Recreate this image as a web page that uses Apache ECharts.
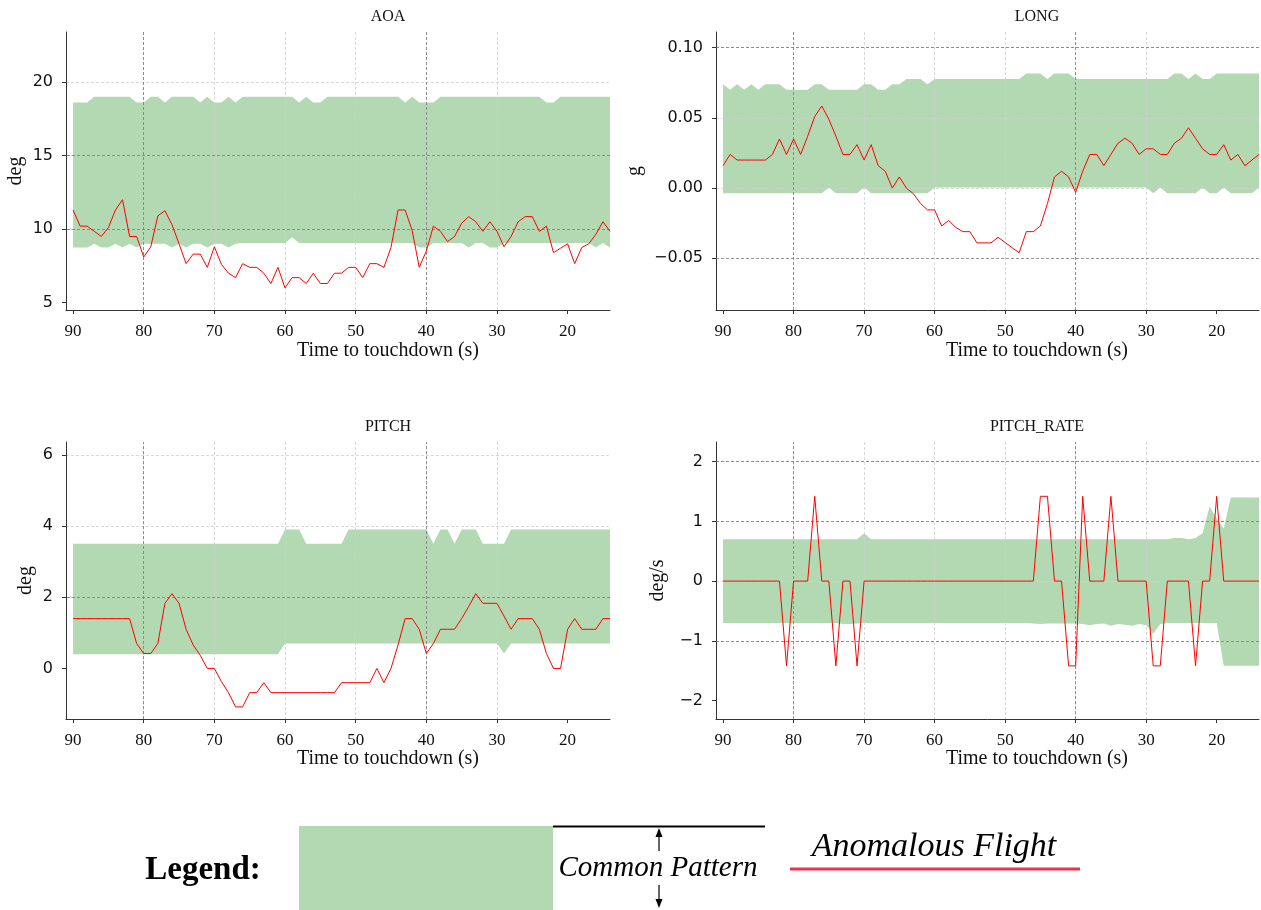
<!DOCTYPE html>
<html><head><meta charset="utf-8">
<script src="https://cdn.jsdelivr.net/npm/echarts@6/dist/echarts.min.js"></script>
<style>html,body{margin:0;padding:0;background:#fff}#c{width:1261px;height:910px}</style>
</head><body><div id="c"></div>
<script>
// ---------- data ----------
const times = [90,89,88,87,86,85,84,83,82,81,80,79,78,77,76,75,74,73,72,71,70,69,68,67,66,65,64,63,62,61,60,59,58,57,56,55,54,53,52,51,50,49,48,47,46,45,44,43,42,41,40,39,38,37,36,35,34,33,32,31,30,29,28,27,26,25,24,23,22,21,20,19,18,17,16,15,14];
const xTicks = [90,80,70,60,50,40,30,20];
const darkX = [80,40];

const aoaRed = [11.3,10.2,10.2,9.85,9.5,10.1,11.3,12.0,9.5,9.5, 8.1,8.8,10.9,11.25,10.3,9.0,7.65,8.3,8.3,7.4, 8.8,7.6,7.0,6.7,7.65,7.4,7.4,7.0,6.3,7.4, 6.0,6.7,6.7,6.3,7.0,6.3,6.3,7.0,7.0,7.4, 7.4,6.7,7.65,7.65,7.4,8.75,11.3,11.3,9.9,7.4, 8.5,10.2,9.85,9.15,9.5,10.4,10.85,10.5,9.85,10.5, 9.85,8.8,9.5,10.5,10.85,10.85,9.85,10.2,8.4,8.7, 9.0,7.65,8.75,9.0,9.65,10.5,9.85];
const aoaUpper = [18.6,18.6,18.6,19,19,19,19,19,19,18.6, 18.6,19,19,18.6,19,19,19,19,18.6,19, 18.6,18.6,19,18.6,19,19,19,19,19,19, 19,19,18.6,19,18.6,18.6,19,19,19,19, 19,19,19,19,19,19,19,18.6,19,18.6, 18.6,18.6,19,19,19,19,19,19,19,19, 19,19,19,19,19,19,19,18.6,18.6,19, 19,19,19,19,19,19,19];
const aoaLower = [8.75,8.75,8.75,9.0,8.75,8.75,9.0,8.75,9.0,8.75, 9.0,9.0,9.0,9.0,8.75,9.0,8.75,9.0,9.0,8.75, 9.0,9.0,8.75,9.0,9.05,9.05,9.05,9.05,9.05,9.05, 9.05,9.45,9.05,9.05,9.05,9.05,9.05,9.05,9.05,9.05, 9.05,9.05,9.05,9.05,9.05,9.05,9.05,9.05,9.05,8.75, 8.75,9.05,9.05,9.05,9.05,9.05,8.75,9.05,9.05,8.75, 8.75,9.05,9.05,9.05,9.05,9.05,9.05,9.05,9.05,9.05, 9.05,9.05,9.05,9.05,8.75,9.05,8.75];
const aoaYTicks = [5,10,15,20];
const aoaDarkY = [15,10];

const longRed = [0.016,0.024,0.020,0.020,0.020,0.020,0.020,0.024,0.035,0.024, 0.035,0.024,0.037,0.051,0.0585,0.049,0.037,0.024,0.024,0.031, 0.020,0.031,0.016,0.012,0.000,0.008,0.000,-0.004,-0.011,-0.0155, -0.0155,-0.027,-0.023,-0.028,-0.031,-0.031,-0.039,-0.039,-0.039,-0.035, -0.0387,-0.0425,-0.046,-0.031,-0.031,-0.027,-0.011,0.008,0.012,0.008, -0.003,0.012,0.024,0.024,0.016,0.024,0.032,0.0355,0.032,0.024, 0.028,0.028,0.024,0.024,0.032,0.0355,0.043,0.0355,0.028,0.024, 0.024,0.031,0.020,0.024,0.016,0.020,0.024];
const longUpper = [0.074,0.070,0.074,0.070,0.074,0.070,0.074,0.074,0.074,0.070, 0.070,0.070,0.070,0.074,0.074,0.070,0.070,0.070,0.070,0.070, 0.074,0.074,0.070,0.070,0.074,0.074,0.0777,0.0777,0.0777,0.074, 0.0777,0.0777,0.0777,0.0777,0.0777,0.0777,0.0777,0.0777,0.0777,0.0777, 0.0777,0.0777,0.0777,0.0817,0.0817,0.0817,0.0777,0.0817,0.0817,0.0817, 0.0777,0.0777,0.0777,0.0777,0.0777,0.0777,0.0777,0.0777,0.0777,0.0777, 0.0777,0.0777,0.0777,0.0777,0.0817,0.0817,0.0777,0.0817,0.0777,0.0777, 0.0817,0.0817,0.0817,0.0817,0.0817,0.0817,0.0817];
const longLower = [-0.0036,-0.0036,-0.0036,-0.0036,-0.0036,-0.0036,-0.0036,-0.0036,-0.0036,-0.0036, -0.0036,-0.0036,-0.0036,-0.0036,-0.0036,0.0004,-0.0036,-0.0036,-0.0036,-0.0036, 0.0004,-0.0036,-0.0036,-0.0036,-0.0036,-0.0036,-0.0036,-0.0036,-0.0036,-0.0036, 0.0004,0.0004,0.0004,0.0004,0.0004,0.0004,0.0004,0.0004,0.0004,0.0004, 0.0004,0.0004,0.0004,0.0004,0.0004,0.0004,0.0004,0.0004,0.0004,0.0004, 0.0004,0.0004,0.0004,0.0004,0.0004,0.0004,0.0004,0.0004,0.0004,0.0004, 0.0004,-0.0036,0.0004,-0.0036,-0.0036,-0.0036,-0.0036,-0.0036,0.0004,-0.0036, -0.0036,0.0004,-0.0036,-0.0036,-0.0036,-0.0036,0.0004];
const longYTicks = [-0.05,0,0.05,0.10];
const longDarkY = [0.10,-0.05];

const pitchRed = [1.4,1.4,1.4,1.4,1.4,1.4,1.4,1.4,1.4,0.70, 0.42,0.42,0.70,1.83,2.1,1.83,1.1,0.66,0.37,0.0, 0.0,-0.37,-0.68,-1.08,-1.08,-0.68,-0.68,-0.4,-0.68,-0.68, -0.68,-0.68,-0.68,-0.68,-0.68,-0.68,-0.68,-0.68,-0.4,-0.4, -0.4,-0.4,-0.4,0.0,-0.4,0.0,0.66,1.4,1.4,1.1, 0.42,0.70,1.1,1.1,1.1,1.4,1.74,2.1,1.83,1.83, 1.83,1.47,1.1,1.4,1.4,1.4,1.1,0.42,0.0,0.0, 1.1,1.4,1.1,1.1,1.1,1.4,1.4];
const pitchUpper = [3.5,3.5,3.5,3.5,3.5,3.5,3.5,3.5,3.5,3.5, 3.5,3.5,3.5,3.5,3.5,3.5,3.5,3.5,3.5,3.5, 3.5,3.5,3.5,3.5,3.5,3.5,3.5,3.5,3.5,3.5, 3.9,3.9,3.9,3.5,3.5,3.5,3.5,3.5,3.5,3.9, 3.9,3.9,3.9,3.9,3.9,3.9,3.9,3.9,3.9,3.9, 3.9,3.5,3.9,3.9,3.5,3.9,3.9,3.9,3.5,3.5, 3.5,3.5,3.9,3.9,3.9,3.9,3.9,3.9,3.9,3.9, 3.9,3.9,3.9,3.9,3.9,3.9,3.9];
const pitchLower = [0.4,0.4,0.4,0.4,0.4,0.4,0.4,0.4,0.4,0.4, 0.4,0.4,0.4,0.4,0.4,0.4,0.4,0.4,0.4,0.4, 0.4,0.4,0.4,0.4,0.4,0.4,0.4,0.4,0.4,0.4, 0.7,0.7,0.7,0.7,0.7,0.7,0.7,0.7,0.7,0.7, 0.7,0.7,0.7,0.7,0.7,0.7,0.7,0.7,0.7,0.7, 0.7,0.7,0.7,0.7,0.7,0.7,0.7,0.7,0.7,0.7, 0.7,0.42,0.7,0.7,0.7,0.7,0.7,0.7,0.7,0.7, 0.7,0.7,0.7,0.7,0.7,0.7,0.7];
const pitchYTicks = [0,2,4,6];
const pitchDarkY = [2];

const rateRed = [0,0,0,0,0,0,0,0,0,-1.42, 0,0,0,1.42,0,0,-1.42,0,0,-1.42, 0,0,0,0,0,0,0,0,0,0, 0,0,0,0,0,0,0,0,0,0, 0,0,0,0,0,1.42,1.42,0,0,-1.42, -1.42,1.42,0,0,0,1.42,0,0,0,0, 0,-1.42,-1.42,0,0,0,0,-1.42,0,0, 1.42,0,0,0,0,0,0];
const rateUpper = [0.7,0.7,0.7,0.7,0.7,0.7,0.7,0.7,0.7,0.7, 0.7,0.7,0.7,0.7,0.7,0.7,0.7,0.7,0.7,0.7, 0.8,0.7,0.7,0.7,0.7,0.7,0.7,0.7,0.7,0.7, 0.7,0.7,0.7,0.7,0.7,0.7,0.7,0.7,0.7,0.7, 0.7,0.7,0.7,0.7,0.7,0.7,0.7,0.7,0.7,0.7, 0.7,0.7,0.7,0.7,0.7,0.7,0.7,0.7,0.7,0.7, 0.7,0.7,0.7,0.7,0.72,0.72,0.7,0.72,0.8,1.25, 1.05,0.88,1.4,1.4,1.4,1.4,1.4];
const rateLower = [-0.7,-0.7,-0.7,-0.7,-0.7,-0.7,-0.7,-0.7,-0.7,-0.7, -0.7,-0.7,-0.7,-0.7,-0.7,-0.7,-0.7,-0.72,-0.72,-0.71, -0.7,-0.7,-0.7,-0.7,-0.7,-0.7,-0.7,-0.7,-0.7,-0.7, -0.7,-0.7,-0.7,-0.7,-0.7,-0.7,-0.7,-0.7,-0.7,-0.7, -0.7,-0.7,-0.7,-0.7,-0.71,-0.72,-0.71,-0.71,-0.71,-0.71, -0.71,-0.72,-0.74,-0.72,-0.71,-0.75,-0.72,-0.73,-0.75,-0.72, -0.74,-0.88,-0.72,-0.7,-0.7,-0.7,-0.7,-0.7,-0.7,-0.7, -0.7,-1.42,-1.42,-1.42,-1.42,-1.42,-1.42];
const rateYTicks = [-2,-1,0,1,2];
const rateDarkY = [2,1,-1];

// ---------- styling / layout ----------
const SERIF = '"Liberation Serif", "Times New Roman", serif';
const SANS = '"DejaVu Sans", sans-serif';
const GREEN = '#b3d9b3';
const LIGHT = '#cfcfcf';
const DARK = '#7a7a7a';

const panels = [
  {title:'AOA', unit:'deg', red:aoaRed, up:aoaUpper, lo:aoaLower, yMin:4.5, yMax:23.4, yTicks:aoaYTicks, darkY:aoaDarkY, dec:0,
   rect:{left:66, top:32, width:544, height:278}, nameGap:40, cx:388, titleY:17, xnameY:351},
  {title:'LONG', unit:'g', red:longRed, up:longUpper, lo:longLower, yMin:-0.0868, yMax:0.1112, yTicks:longYTicks, darkY:longDarkY, dec:2,
   rect:{left:716, top:32, width:543, height:278}, nameGap:71, cx:1037, titleY:17, xnameY:351},
  {title:'PITCH', unit:'deg', red:pitchRed, up:pitchUpper, lo:pitchLower, yMin:-1.42, yMax:6.36, yTicks:pitchYTicks, darkY:pitchDarkY, dec:0,
   rect:{left:66, top:442, width:544, height:277}, nameGap:30, cx:388, titleY:427, xnameY:759},
  {title:'PITCH_RATE', unit:'deg/s', red:rateRed, up:rateUpper, lo:rateLower, yMin:-2.31, yMax:2.33, yTicks:rateYTicks, darkY:rateDarkY, dec:0,
   rect:{left:716, top:442, width:543, height:277}, nameGap:48, cx:1037, titleY:427, xnameY:759}
];

const grids = [], xAxes = [], yAxes = [], series = [], graphics = [];
const fmt = (dec) => (v) => (dec ? v.toFixed(dec) : String(Math.round(v))).replace('-', '\u2212');

panels.forEach((p, i) => {
  grids.push(Object.assign({containLabel:false}, p.rect));
  xAxes.push({
    gridIndex:i, type:'value', min:14, max:91, inverse:true, splitNumber:8, z:3,
    axisLine:{show:true, onZero:false, lineStyle:{color:'#333', width:1}},
    axisTick:{show:true, length:4, customValues:xTicks, lineStyle:{color:'#333', width:1}},
    axisLabel:{customValues:xTicks, fontFamily:SERIF, fontSize:17, color:'#111', margin:13},
    splitLine:{show:true, showMinLine:false, showMaxLine:false, lineStyle:{color:LIGHT, type:[3,2], width:0.8}}
  });
  yAxes.push({
    gridIndex:i, type:'value', min:p.yMin, max:p.yMax, splitNumber:4, z:3,
    name:p.unit, nameLocation:'middle', nameGap:p.nameGap,
    nameTextStyle:{fontFamily:SERIF, fontSize:20, color:'#111'},
    axisLine:{show:true, onZero:false, lineStyle:{color:'#333', width:1}},
    axisTick:{show:true, length:4, customValues:p.yTicks, lineStyle:{color:'#333', width:1}},
    axisLabel:{customValues:p.yTicks, fontFamily:SANS, fontSize:16, color:'#111', margin:13, formatter:fmt(p.dec)},
    splitLine:{show:true, showMinLine:false, showMaxLine:true, lineStyle:{color:LIGHT, type:[3,2], width:0.8}}
  });
  // common-pattern band: polygon through upper values, back through lower values
  series.push({
    type:'custom', xAxisIndex:i, yAxisIndex:i, z:1, silent:true,
    data: times.map((t, k) => [t, p.lo[k], p.up[k]]),
    encode:{x:0, y:[1,2]},
    renderItem:(params, api) => {
      if (params.dataIndex !== 0) return null;
      const pts = [];
      for (let k = 0; k < times.length; k++) pts.push(api.coord([times[k], p.up[k]]));
      for (let k = times.length - 1; k >= 0; k--) pts.push(api.coord([times[k], p.lo[k]]));
      return {type:'polygon', shape:{points:pts}, style:{fill:GREEN}};
    }
  });
  series.push({
    type:'line', xAxisIndex:i, yAxisIndex:i, z:5, silent:true,
    showSymbol:false, symbol:'none', lineStyle:{color:'#ff0000', width:1},
    data: times.map((t, k) => [t, p.red[k]]),
    markLine:{silent:true, symbol:['none','none'], label:{show:false}, animation:false,
      lineStyle:{color:DARK, type:[3,2], width:0.8},
      data: darkX.map(v => ({xAxis:v})).concat(p.darkY.map(v => ({yAxis:v})))}
  });
  graphics.push({type:'text', x:p.cx, y:p.titleY, silent:true,
    style:{text:p.title, fontFamily:SERIF, fontSize:16, fill:'#111', align:'center', verticalAlign:'middle', textAlign:'center', textVerticalAlign:'middle'}});
  graphics.push({type:'text', x:p.cx, y:p.xnameY, silent:true,
    style:{text:'Time to touchdown (s)', fontFamily:SERIF, fontSize:20, fill:'#111', align:'center', verticalAlign:'middle', textAlign:'center', textVerticalAlign:'middle'}});
});

// ---------- legend drawing ----------
graphics.push(
  {type:'text', x:203, y:870, silent:true, style:{text:'Legend:', fontFamily:SERIF, fontSize:33, fontWeight:'bold', fill:'#000', align:'center', verticalAlign:'middle', textAlign:'center', textVerticalAlign:'middle'}},
  {type:'rect', silent:true, shape:{x:299, y:826, width:254, height:84}, style:{fill:GREEN}},
  {type:'line', silent:true, shape:{x1:553, y1:826.5, x2:765, y2:826.5}, style:{stroke:'#000', lineWidth:2}},
  {type:'line', silent:true, shape:{x1:659, y1:851, x2:659, y2:833}, style:{stroke:'#000', lineWidth:1.2}},
  {type:'polygon', silent:true, shape:{points:[[659,828],[655.5,837],[662.5,837]]}, style:{fill:'#000'}},
  {type:'line', silent:true, shape:{x1:659, y1:885, x2:659, y2:903}, style:{stroke:'#000', lineWidth:1.2}},
  {type:'polygon', silent:true, shape:{points:[[659,908],[655.5,899],[662.5,899]]}, style:{fill:'#000'}},
  {type:'text', x:658, y:868, silent:true, style:{text:'Common Pattern', fontFamily:SERIF, fontSize:29, fontStyle:'italic', fill:'#000', align:'center', verticalAlign:'middle', textAlign:'center', textVerticalAlign:'middle'}},
  {type:'text', x:934, y:847, silent:true, style:{text:'Anomalous Flight', fontFamily:SERIF, fontSize:34, fontStyle:'italic', fill:'#000', align:'center', verticalAlign:'middle', textAlign:'center', textVerticalAlign:'middle'}},
  {type:'line', silent:true, shape:{x1:790, y1:869, x2:1080, y2:869}, style:{stroke:'#e8344e', lineWidth:3}}
);

const chart = echarts.init(document.getElementById('c'), null, {renderer:'canvas'});
chart.setOption({
  backgroundColor:'#fff',
  animation:false,
  grid:grids, xAxis:xAxes, yAxis:yAxes, series:series,
  graphic:graphics
});
</script></body></html>
